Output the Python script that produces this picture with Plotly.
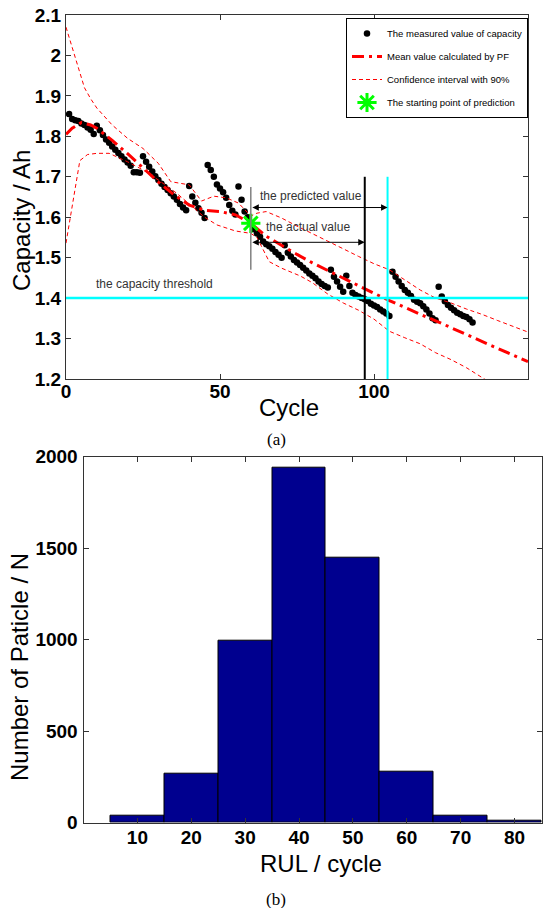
import plotly.graph_objects as go

# ---------------- data: top panel ----------------
meas_cycle = list(range(1, 133))
meas_cap = [
    1.855, 1.843, 1.840, 1.838, 1.832, 1.828, 1.822, 1.816, 1.806, 1.826,
    1.815, 1.803, 1.792, 1.784, 1.775, 1.767, 1.759, 1.751, 1.743, 1.735,
    1.727, 1.711, 1.711, 1.710, 1.751, 1.737, 1.725, 1.713, 1.701, 1.692,
    1.683, 1.675, 1.667, 1.659, 1.651, 1.643, 1.633, 1.624, 1.617, 1.677,
    1.651, 1.636, 1.622, 1.611, 1.598, 1.729, 1.717, 1.700, 1.681, 1.671,
    1.662, 1.648, 1.630, 1.616, 1.607, 1.676, 1.643, 1.614, 1.600, 1.585,
    1.570, 1.560, 1.552, 1.540, 1.533, 1.528, 1.522, 1.514, 1.507, 1.500,
    1.531, 1.512, 1.503, 1.494, 1.488, 1.482, 1.475, 1.468, 1.461, 1.455,
    1.449, 1.441, 1.435, 1.430, 1.426, 1.470, 1.453, 1.441, 1.428, 1.416,
    1.455, 1.430, 1.413, 1.408, 1.404, 1.400, 1.397, 1.393, 1.386, 1.382,
    1.378, 1.372, 1.367, 1.362, 1.356, 1.465, 1.453, 1.441, 1.430, 1.420,
    1.413, 1.405, 1.396, 1.391, 1.387, 1.380, 1.372, 1.362, 1.350, 1.345,
    1.428, 1.404, 1.392, 1.383, 1.376, 1.370, 1.364, 1.360, 1.356, 1.353,
    1.348, 1.340,
]

mean_cycle = [0, 2, 5, 8, 10, 15, 20, 25, 30, 35, 40, 45, 50, 55, 60, 65, 70,
              75, 80, 85, 90, 95, 100, 105, 110, 115, 120, 125, 130, 135, 140, 145, 150]
mean_cap = [1.805, 1.820, 1.834, 1.828, 1.820, 1.790, 1.757, 1.722, 1.687, 1.656,
            1.630, 1.617, 1.614, 1.606, 1.585, 1.553, 1.530, 1.508, 1.487, 1.468,
            1.448, 1.430, 1.412, 1.394, 1.376, 1.360, 1.344, 1.328, 1.310, 1.293,
            1.277, 1.260, 1.243]

upper_cycle = [0, 2, 4, 6, 8, 10, 15, 20, 25, 30, 34, 40, 44, 48, 52, 56, 60, 62,
               65, 70, 75, 80, 85, 90, 95, 100, 105, 110, 115, 120, 125, 130, 135,
               140, 145, 150]
upper_cap = [2.070, 2.020, 1.964, 1.920, 1.893, 1.870, 1.828, 1.795, 1.770, 1.733,
             1.688, 1.680, 1.640, 1.652, 1.648, 1.635, 1.603, 1.610, 1.614, 1.598,
             1.578, 1.560, 1.542, 1.522, 1.503, 1.485, 1.470, 1.445, 1.420, 1.400,
             1.388, 1.373, 1.360, 1.345, 1.330, 1.316]

lower_cycle = [0, 2, 4.5, 7, 10, 14, 20, 25, 30, 36, 41, 45, 49, 55, 60, 62, 64, 66,
               70, 76, 80, 85, 90, 95, 100, 105, 110, 115, 120, 125, 130, 135, 140, 150]
lower_cap = [1.536, 1.630, 1.740, 1.755, 1.758, 1.758, 1.737, 1.717, 1.692, 1.659,
             1.626, 1.600, 1.581, 1.566, 1.560, 1.550, 1.520, 1.490, 1.474, 1.455,
             1.438, 1.410, 1.388, 1.370, 1.348, 1.318, 1.302, 1.287, 1.265, 1.248,
             1.228, 1.203, 1.180, 1.140]

start_cycle = 60
start_cap = 1.585
threshold = 1.4
actual_eol = 97
predicted_eol = 104.4
marker_top = 1.7
gray_line = [1.47, 1.675]
arrow_pred_y = 1.624
arrow_act_y = 1.538

# ---------------- data: bottom panel ----------------
rul_bins = [10, 20, 30, 40, 50, 60, 70, 80]
rul_counts = [37, 265, 995, 1938, 1450, 279, 38, 8]

W, H = 543, 908
def px(x): return x / W
def py(y): return 1 - y / H

FONT = "Liberation Sans, Arial, sans-serif"
SERIF = "Liberation Serif, Times New Roman, serif"
fig = go.Figure()

fig.add_trace(go.Scatter(
    x=meas_cycle, y=meas_cap, mode="markers", name="The measured value of capacity",
    marker=dict(color="black", size=6.5), legendgroup="a", xaxis="x", yaxis="y"))
fig.add_trace(go.Scatter(
    x=mean_cycle, y=mean_cap, mode="lines", name="Mean value calculated by PF",
    line=dict(color="#ff0000", width=3, dash="12px,5px,3px,5px"), legendgroup="b",
    xaxis="x", yaxis="y"))
fig.add_trace(go.Scatter(
    x=upper_cycle, y=upper_cap, mode="lines", name="Confidence interval with 90%",
    line=dict(color="#ff0000", width=1, dash="4px,3px"), legendgroup="c",
    xaxis="x", yaxis="y"))
fig.add_trace(go.Scatter(
    x=lower_cycle, y=lower_cap, mode="lines", showlegend=False,
    line=dict(color="#ff0000", width=1, dash="4px,3px"), legendgroup="c",
    xaxis="x", yaxis="y"))
fig.add_trace(go.Scatter(
    x=[start_cycle], y=[start_cap], mode="markers", name="The starting point of prediction",
    marker=dict(symbol="asterisk-open", size=16, color="#00ff00",
                line=dict(color="#00ff00", width=3)), legendgroup="d",
    xaxis="x", yaxis="y"))

fig.add_trace(go.Bar(
    x=rul_bins, y=rul_counts, width=10, marker=dict(color="#00008f",
    line=dict(color="black", width=1)), showlegend=False, xaxis="x2", yaxis="y2"))

# reference lines
shapes = [
    dict(type="line", xref="x", yref="y", x0=0, x1=150, y0=threshold, y1=threshold,
         line=dict(color="#00ffff", width=2.5)),
    dict(type="line", xref="x", yref="y", x0=actual_eol, x1=actual_eol, y0=1.2, y1=marker_top,
         line=dict(color="black", width=2)),
    dict(type="line", xref="x", yref="y", x0=predicted_eol, x1=predicted_eol, y0=1.2, y1=marker_top,
         line=dict(color="#00ffff", width=2)),
    dict(type="line", xref="x", yref="y", x0=start_cycle, x1=start_cycle,
         y0=gray_line[0], y1=gray_line[1], line=dict(color="#808080", width=1.5)),
]

def ptext(x, y, text, font, angle=0):
    return dict(xref="paper", yref="paper", x=px(x), y=py(y), text=text, textangle=angle,
                xanchor="center", yanchor="middle", showarrow=False, font=font)

annotations = [
    dict(xref="x", yref="y", x=predicted_eol, y=arrow_pred_y, ax=start_cycle, ay=arrow_pred_y,
         axref="x", ayref="y", text="", showarrow=True, arrowside="end+start",
         arrowhead=2, startarrowhead=2, arrowsize=1.3, startarrowsize=1.3, arrowwidth=1,
         arrowcolor="black"),
    dict(xref="x", yref="y", x=actual_eol, y=arrow_act_y, ax=start_cycle, ay=arrow_act_y,
         axref="x", ayref="y", text="", showarrow=True, arrowside="end+start",
         arrowhead=2, startarrowhead=2, arrowsize=1.3, startarrowsize=1.3, arrowwidth=1,
         arrowcolor="black"),
    dict(xref="x", yref="y", x=62.3, y=1.653, text="the predicted value", showarrow=False,
         xanchor="left", yanchor="middle", font=dict(family=FONT, size=12, color="#333")),
    dict(xref="x", yref="y", x=64.3, y=1.577, text="the actual value", showarrow=False,
         xanchor="left", yanchor="middle", font=dict(family=FONT, size=12, color="#333")),
    dict(xref="x", yref="y", x=9, y=1.435, text="the capacity threshold", showarrow=False,
         xanchor="left", yanchor="middle", font=dict(family=FONT, size=12, color="#333")),
    ptext(21, 221, "Capacity / Ah", dict(family=FONT, size=24, color="black"), -90),
    ptext(289, 407, "Cycle", dict(family=FONT, size=24, color="black")),
    ptext(19, 667, "Number of Paticle / N", dict(family=FONT, size=24, color="black"), -90),
    ptext(321, 863, "RUL / cycle", dict(family=FONT, size=24, color="black")),
    ptext(276, 439, "(a)", dict(family=SERIF, size=17, color="black")),
    ptext(276, 899, "(b)", dict(family=SERIF, size=17, color="black")),
]

tickfont = dict(family=FONT, size=19, color="black", weight="bold")
axcommon = dict(showgrid=False, zeroline=False, showline=True, linecolor="#333", linewidth=1,
                mirror="ticks", ticks="inside", ticklen=5, tickcolor="#333", tickfont=tickfont,
                automargin=False)

fig.update_layout(
    width=W, height=H, margin=dict(l=0, r=0, t=0, b=0, autoexpand=False),
    paper_bgcolor="white", plot_bgcolor="white",
    xaxis=dict(domain=[px(66), px(528)], range=[0, 150], tickvals=[0, 50, 100, 150],
               anchor="y", ticklabelstandoff=-5, **axcommon),
    yaxis=dict(domain=[py(379), py(15)], range=[1.2, 2.1],
               tickvals=[1.2, 1.3, 1.4, 1.5, 1.6, 1.7, 1.8, 1.9, 2.0, 2.1],
               ticktext=["1.2", "1.3", "1.4", "1.5", "1.6", "1.7", "1.8", "1.9", "2", "2.1"],
               anchor="x", ticklabelstandoff=0, **axcommon),
    xaxis2=dict(domain=[px(83.5), px(542)], range=[0, 85.1], tickvals=rul_bins,
                anchor="y2", ticklabelstandoff=-2, **axcommon),
    yaxis2=dict(domain=[py(822.5), py(456.7)], range=[0, 2000],
                tickvals=[0, 500, 1000, 1500, 2000], anchor="x2", ticklabelstandoff=1, **axcommon),
    bargap=0,
    shapes=shapes, annotations=annotations,
    legend=dict(x=px(346), y=py(18), xanchor="left", yanchor="top",
                bordercolor="black", borderwidth=1, bgcolor="white",
                font=dict(family=FONT, size=9.5, color="black"), tracegroupgap=4),
    showlegend=True,
)

fig.write_html("out.html", config={"displayModeBar": False},
               post_script="document.body.style.margin='0px';")
